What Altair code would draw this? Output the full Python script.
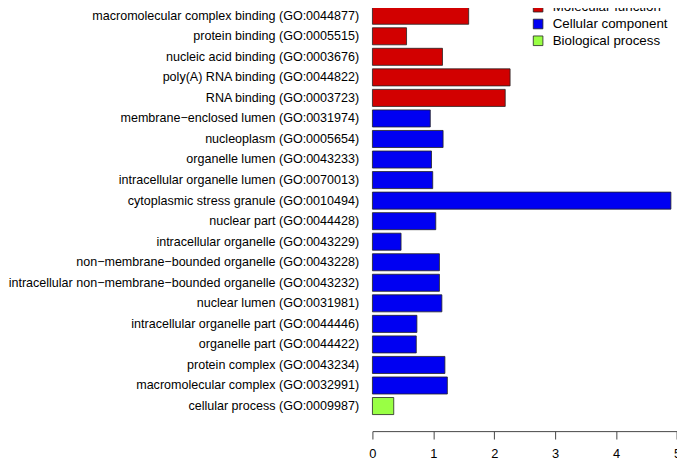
import altair as alt
import pandas as pd

terms = [
    "macromolecular complex binding (GO:0044877)",
    "protein binding (GO:0005515)",
    "nucleic acid binding (GO:0003676)",
    "poly(A) RNA binding (GO:0044822)",
    "RNA binding (GO:0003723)",
    "membrane\u2212enclosed lumen (GO:0031974)",
    "nucleoplasm (GO:0005654)",
    "organelle lumen (GO:0043233)",
    "intracellular organelle lumen (GO:0070013)",
    "cytoplasmic stress granule (GO:0010494)",
    "nuclear part (GO:0044428)",
    "intracellular organelle (GO:0043229)",
    "non\u2212membrane\u2212bounded organelle (GO:0043228)",
    "intracellular non\u2212membrane\u2212bounded organelle (GO:0043232)",
    "nuclear lumen (GO:0031981)",
    "intracellular organelle part (GO:0044446)",
    "organelle part (GO:0044422)",
    "protein complex (GO:0043234)",
    "macromolecular complex (GO:0032991)",
    "cellular process (GO:0009987)",
]
values = [1.58, 0.56, 1.15, 2.26, 2.18, 0.95, 1.16, 0.97, 0.99, 4.90,
          1.04, 0.47, 1.10, 1.10, 1.14, 0.73, 0.72, 1.19, 1.23, 0.35]
categories = (["Molecular function"] * 5 + ["Cellular component"] * 14
              + ["Biological process"])
cat_order = ["Molecular function", "Cellular component", "Biological process"]
cat_colors = ["#D20000", "#0000F2", "#99FF44"]
x_ticks = [0, 1, 2, 3, 4, 5]

df = pd.DataFrame({"term": terms, "value": values, "category": categories})

chart = alt.Chart(df).mark_bar(stroke="#222222", strokeWidth=0.8).encode(
    x=alt.X("value:Q",
            scale=alt.Scale(domain=[0, 5], nice=False, zero=True),
            axis=alt.Axis(values=x_ticks, title=None, grid=False, offset=15,
                          domainColor="#444444", tickColor="#444444",
                          tickSize=8, labelFontSize=13, labelPadding=9,
                          labelColor="#000000", labelFont="Liberation Sans",
                          labelFlush=False)),
    y=alt.Y("term:N", sort=terms,
            scale=alt.Scale(paddingInner=0.17, paddingOuter=0.085, round=False),
            axis=alt.Axis(title=None, ticks=False, domain=False,
                          labelFontSize=12.7, labelPadding=14,
                          labelColor="#000000", labelFont="Liberation Sans",
                          labelLimit=400)),
    color=alt.Color("category:N",
                    scale=alt.Scale(domain=cat_order, range=cat_colors),
                    legend=alt.Legend(title=None, orient="none",
                                      legendX=161, legendY=-5,
                                      symbolType="square", symbolSize=95,
                                      symbolStrokeColor="#222222",
                                      symbolStrokeWidth=0.8,
                                      symbolOpacity=1,
                                      labelFontSize=13.5,
                                      labelFont="Liberation Sans",
                                      labelColor="#000000",
                                      labelOffset=8, rowPadding=2)),
).properties(
    width=308.4,
    height=416,
    autosize=alt.AutoSizeParams(type="none"),
    padding={"left": 369, "top": -5.4, "right": 0, "bottom": 42},
).configure_view(stroke=None)

chart.save("out.html", embed_options={"renderer": "svg", "actions": False})
